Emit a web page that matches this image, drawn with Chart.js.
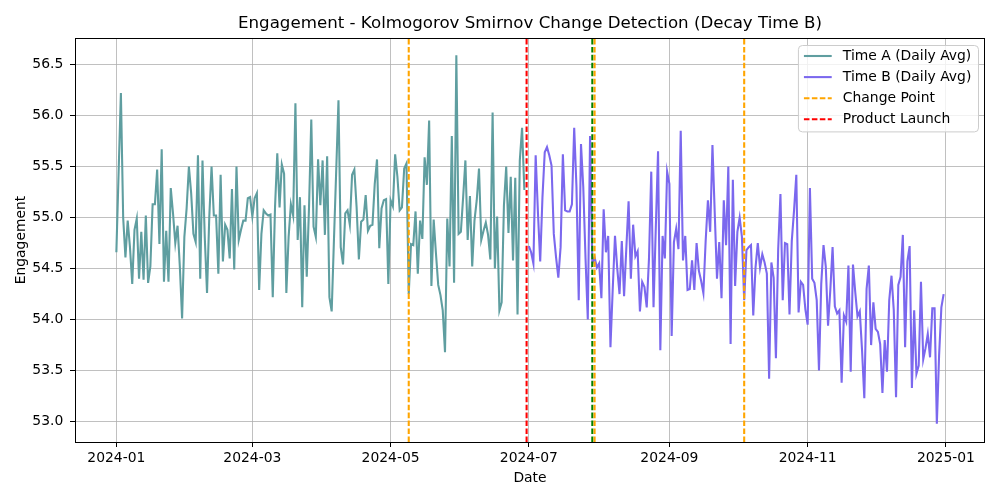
<!DOCTYPE html>
<html><head><meta charset="utf-8">
<script src="https://cdn.jsdelivr.net/npm/chart.js@4.4.1/dist/chart.umd.min.js"></script>
<style>html,body{margin:0;padding:0;background:#fff}#wrap{width:1000px;height:500px}</style>
</head><body><div id="wrap"><canvas id="c" width="1000" height="500"></canvas></div>
<script>
const chartTitle = "Engagement - Kolmogorov Smirnov Change Detection (Decay Time B)";
const xTitle = "Date";
const yTitle = "Engagement";
const seriesLabels = ["Time A (Daily Avg)", "Time B (Daily Avg)"];
const startA = "2024-01-01";
const startB = "2024-07-01";
const valuesA = [
54.66,55.45,56.22,55.00,54.61,54.97,54.71,54.35,54.88,54.99,
54.40,54.86,54.39,55.02,54.36,54.52,55.13,55.13,55.47,54.74,
55.67,54.37,54.87,54.37,55.29,55.04,54.75,54.92,54.52,54.01,
54.81,55.09,55.50,55.24,54.84,54.76,55.61,54.40,55.56,54.81,
54.26,55.01,55.50,55.02,55.02,54.45,55.42,54.57,54.93,54.88,
54.60,55.28,54.49,55.50,54.78,54.88,54.97,54.97,55.19,55.20,
55.01,55.19,55.24,54.29,54.84,55.07,55.04,55.02,55.03,54.22,
55.10,55.63,55.10,55.52,55.43,54.26,54.81,55.13,55.02,56.12,
54.78,55.20,54.12,55.12,54.42,55.10,55.96,54.91,54.81,55.57,
55.12,55.56,54.83,55.60,54.22,54.08,54.78,55.46,56.15,54.71,
54.54,55.04,55.07,54.93,55.42,55.47,55.10,54.59,54.96,54.98,
55.22,54.87,54.92,54.93,55.33,55.57,54.70,55.09,55.17,55.18,
54.35,55.17,55.11,55.62,55.40,55.07,55.10,55.48,55.53,54.25,
54.74,54.73,55.06,54.45,54.97,54.79,55.59,55.32,55.95,54.33,
54.98,54.65,54.34,54.24,54.09,53.68,54.99,54.52,55.80,54.36,
56.59,54.84,54.86,55.20,55.56,54.78,55.21,54.52,54.97,55.17,
55.48,54.78,54.87,54.95,54.83,54.59,56.03,54.50,55.01,54.09,
54.17,55.12,55.50,54.85,55.40,54.58,55.39,54.05,55.56,55.88,
55.27
];
const valuesB = [
54.72,54.66,54.55,55.61,55.05,54.57,55.20,55.64,55.69,55.61,
55.51,54.84,54.61,54.41,54.71,55.62,55.07,55.06,55.06,55.13,
55.88,55.30,54.19,55.72,55.30,54.60,54.00,55.80,54.55,54.61,
54.51,54.55,54.21,55.08,54.66,54.82,53.73,54.30,54.82,54.50,
54.25,54.77,54.23,54.70,55.16,54.40,54.93,54.62,54.67,54.08,
54.37,54.32,54.12,54.60,55.45,54.12,54.90,55.65,53.70,54.82,
54.60,55.45,55.33,53.84,54.76,54.89,54.69,55.85,54.58,54.82,
54.29,54.30,54.58,54.29,54.75,54.48,54.38,54.26,54.77,55.17,
54.86,55.71,55.05,54.40,54.76,54.21,55.17,54.73,55.50,53.76,
55.37,54.33,54.86,55.00,54.81,54.19,54.68,54.71,54.73,54.04,
54.51,54.75,54.51,54.64,54.56,54.45,53.42,54.56,54.41,53.62,
54.69,55.23,54.19,54.75,54.74,54.05,54.77,55.07,55.42,54.07,
54.37,54.34,54.10,53.95,55.29,54.40,54.36,54.19,53.50,54.35,
54.73,54.52,53.94,54.29,54.71,54.13,54.06,54.09,53.38,54.04,
53.98,54.53,53.49,54.54,54.27,54.03,54.08,53.70,53.23,54.30,
54.53,53.75,54.17,53.91,53.88,53.76,53.28,53.80,53.49,54.19,
54.43,54.09,53.24,54.34,54.42,54.83,53.73,54.57,54.72,53.33,
54.09,53.47,53.55,54.37,53.61,53.72,53.86,53.63,54.11,54.11,
52.98,53.65,54.12,54.25
];
const changePointDates = ["2024-05-09", "2024-07-30", "2024-10-04"];
const launchDates = ["2024-06-30"];
const extraLineDates = ["2024-07-29"];
const xTickLabels = ["2024-01", "2024-03", "2024-05", "2024-07", "2024-09", "2024-11", "2025-01"];
const yTickValues = [53.0, 53.5, 54.0, 54.5, 55.0, 55.5, 56.0, 56.5];
const yMin = 52.80, yMax = 56.76;

const DAY = 86400000;
const origin = Date.UTC(2024, 0, 1);
function dayOf(s) {
  const p = s.split("-").map(Number);
  return Math.round((Date.UTC(p[0], p[1] - 1, p[2] || 1) - origin) / DAY);
}
const a0 = dayOf(startA), b0 = dayOf(startB);
const ptsA = valuesA.map((v, i) => ({x: a0 + i, y: v}));
const ptsB = valuesB.map((v, i) => ({x: b0 + i, y: v}));
const xFirst = a0, xLast = b0 + valuesB.length - 1;
const xPad = (xLast - xFirst) * 0.05;
function vlines(dates) {
  const out = [];
  dates.forEach(d => { const x = dayOf(d); out.push({x, y: yMin}, {x, y: yMax}, {x, y: null}); });
  return out;
}
const xTickDays = xTickLabels.map(dayOf);

const FONT = "DejaVu Sans";
Chart.defaults.font.family = FONT;
Chart.defaults.color = "#000";

const frame = {
  id: "frame",
  afterDatasetsDraw(chart) {
    const {ctx, chartArea: a} = chart;
    ctx.save();
    ctx.strokeStyle = "#000"; ctx.lineWidth = 1;
    ctx.strokeRect(Math.round(a.left) + 0.5, Math.round(a.top) + 0.5, Math.round(a.right - a.left) - 1, Math.round(a.bottom - a.top));
    ctx.restore();
  }
};
const axesTitle = {
  id: "axesTitle",
  afterDraw(chart) {
    const {ctx, chartArea: a} = chart;
    ctx.save();
    ctx.font = "16.67px '" + FONT + "'";
    ctx.fillStyle = "#000"; ctx.textAlign = "center"; ctx.textBaseline = "alphabetic";
    ctx.fillText(chartTitle, (a.left + a.right) / 2, 28.3);
    ctx.restore();
  }
};
const mplLegend = {
  id: "mplLegend",
  afterDraw(chart) {
    const {ctx, chartArea: a} = chart;
    const items = chart.data.datasets.filter(d => d.label && d.label[0] !== "_");
    ctx.save();
    ctx.font = "13.9px '" + FONT + "'";
    const tw = Math.max(...items.map(d => ctx.measureText(d.label).width));
    const pad = 6, handle = 27.8, gap = 11.1, rowH = 21.1;
    const w = pad + handle + gap + tw + 6.7;
    const h = items.length * rowH + 2;
    const right = a.right - 7, top = a.top + 7;
    const left = right - w;
    ctx.beginPath();
    ctx.roundRect(left + 0.5, top + 0.5, w, h, 4);
    ctx.fillStyle = "rgba(255,255,255,0.8)"; ctx.fill();
    ctx.strokeStyle = "#cccccc"; ctx.lineWidth = 1; ctx.stroke();
    items.forEach((d, i) => {
      const y = top + 11 + i * rowH;
      ctx.beginPath();
      ctx.setLineDash(d.borderDash || []);
      ctx.strokeStyle = d.borderColor; ctx.lineWidth = d.borderWidth;
      ctx.moveTo(left + pad, y); ctx.lineTo(left + pad + handle, y); ctx.stroke();
      ctx.setLineDash([]);
      ctx.fillStyle = "#000"; ctx.textBaseline = "middle"; ctx.textAlign = "left";
      ctx.fillText(d.label, left + pad + handle + gap, y + 0.5);
    });
    ctx.restore();
  }
};

const LW = 2.08, DASH = [5.55, 2.4];
new Chart(document.getElementById("c"), {
  type: "line",
  data: {
    datasets: [
      {label: seriesLabels[0], data: ptsA, borderColor: "#5f9ea0", borderWidth: LW, pointRadius: 0, order: 2},
      {label: seriesLabels[1], data: ptsB, borderColor: "#7b68ee", borderWidth: LW, pointRadius: 0, order: 2},
      {label: "Change Point", data: vlines(changePointDates), borderColor: "#ffa500", borderDash: DASH, borderWidth: LW, pointRadius: 0, order: 0},
      {label: "Product Launch", data: vlines(launchDates), borderColor: "#ff0000", borderDash: DASH, borderWidth: LW, pointRadius: 0, order: 0},
      {label: "_nolegend_", data: vlines(extraLineDates), borderColor: "#008000", borderDash: DASH, borderWidth: LW, pointRadius: 0, order: 1}
    ]
  },
  options: {
    responsive: false, animation: false, devicePixelRatio: 1,
    layout: {padding: {left: 0, right: 15, top: 38, bottom: 0}},
    plugins: {
      legend: {display: false},
      tooltip: {enabled: false},
      title: {display: false}
    },
    scales: {
      x: {
        type: "linear", min: xFirst - xPad, max: xLast + xPad,
        afterFit(s) { s.height = 58; },
        afterBuildTicks(s) { s.ticks = xTickDays.map(v => ({value: v})); },
        ticks: {autoSkip: false, maxRotation: 0, padding: 3, font: {size: 13.9},
          callback: (v) => { const i = xTickDays.indexOf(v); return i >= 0 ? xTickLabels[i] : ""; }},
        grid: {color: "#b0b0b0", lineWidth: 0.8, tickLength: 5, tickColor: "#000", tickWidth: 1},
        border: {display: false},
        title: {display: true, text: xTitle, font: {size: 13.9}, padding: {top: 0, bottom: 13.2}}
      },
      y: {
        type: "linear", min: yMin, max: yMax,
        afterFit(s) { s.width = 75; },
        afterBuildTicks(s) { s.ticks = yTickValues.map(v => ({value: v})); },
        ticks: {padding: 6.7, font: {size: 13.9}, callback: v => Number(v).toFixed(1)},
        grid: {color: "#b0b0b0", lineWidth: 0.8, tickLength: 5, tickColor: "#000", tickWidth: 1},
        border: {display: false},
        title: {display: true, text: yTitle, font: {size: 13.9}, padding: {top: 13.5, bottom: 0}}
      }
    }
  },
  plugins: [frame, axesTitle, mplLegend]
});
</script>
</body></html>
